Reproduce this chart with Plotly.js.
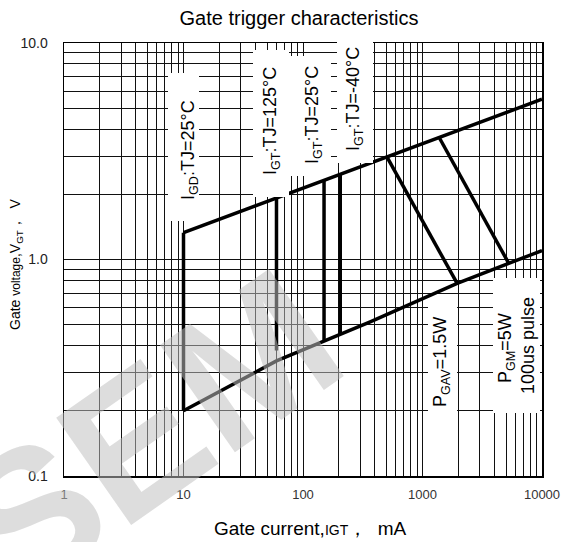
<!DOCTYPE html>
<html>
<head>
<meta charset="utf-8">
<script src="https://cdn.plot.ly/plotly-3.0.1.min.js"></script>
<style>
  html, body { margin: 0; padding: 0; background: #fff; }
  #wrap { position: relative; width: 568px; height: 542px; }
  #chart { position: absolute; left: 0; top: 0; width: 568px; height: 542px; }
  #wm { position: absolute; left: 0; top: 0; width: 568px; height: 542px; pointer-events: none; }
</style>
</head>
<body>
<div id="wrap">
  <div id="chart"></div>
  <svg id="wm" width="568" height="542" xmlns="http://www.w3.org/2000/svg">
    <text x="17" y="605" transform="rotate(-35 17 605)" font-family="Liberation Sans, Arial, sans-serif"
          font-weight="bold" font-size="190" fill="rgb(191,191,191)" fill-opacity="0.53">SEM</text>
  </svg>
</div>
<script>
// ---- data ----
const xUpper = [10, 10000];
const yUpper = [1.33, 5.5];
const xLower = [10, 60, 365, 1950, 10000];
const yLower = [0.2, 0.34, 0.515, 0.775, 1.1];
const xIGD = [10, 10];
const yIGD = [0.2, 1.33];
const xIGT125 = [60, 60];
const yIGT125 = [0.38, 1.92];
const xIGT25 = [150, 150];
const yIGT25 = [0.42, 2.32];
const xIGTm40 = [205, 205];
const yIGTm40 = [0.45, 2.47];
const xPGAV = [504, 1950];
const yPGAV = [2.98, 0.775];
const xPGM = [1365, 5270];
const yPGM = [3.7, 0.96];

const xTickVals = [1, 10, 100, 1000, 10000];
const xTickText = ['1', '10', '100', '1000', '10000'];
const yTickVals = [0.1, 1, 10];
const yTickText = ['0.1', '1.0', '10.0'];

const labelTexts = ['I<sub>GD</sub>:TJ=25°C', 'I<sub>GT</sub>:TJ=125°C', 'I<sub>GT</sub>:TJ=25°C',
                    'I<sub>GT</sub>:TJ=-40°C', 'P<sub>GAV</sub>=1.5W', 'P<sub>GM</sub>=5W', '100us pulse'];

// ---- layout helpers (pixel -> paper) ----
const L = 64, R = 542, T = 43, B = 476;
const px = v => (v - L) / (R - L);
const py = v => (B - v) / (B - T);

const line = (x, y) => ({x, y, type: 'scatter', mode: 'lines', line: {color: '#000', width: 3.5}, hoverinfo: 'skip', showlegend: false});
const data = [
  line(xUpper, yUpper), line(xLower, yLower), line(xIGD, yIGD), line(xIGT125, yIGT125),
  line(xIGT25, yIGT25), line(xIGTm40, yIGTm40), line(xPGAV, yPGAV), line(xPGM, yPGM)
];

const box = (x0, x1, y0, y1) => ({type: 'rect', xref: 'paper', yref: 'paper', layer: 'above',
  x0: px(x0), x1: px(x1), y0: py(y1), y1: py(y0), fillcolor: '#fff', line: {width: 0}});

const labelFont = {family: '"Liberation Sans", Arial, sans-serif', size: 18, color: '#000'};
const lab = (text, cx, cy) => ({text, xref: 'paper', yref: 'paper', x: px(cx), y: py(cy), xanchor: 'center', yanchor: 'middle',
  textangle: -90, showarrow: false, font: labelFont});

const axisCommon = {
  type: 'log', showline: true, mirror: true, linecolor: '#000', linewidth: 1.5,
  showgrid: true, gridcolor: '#111', gridwidth: 1, ticks: '', zeroline: false,
  minor: {dtick: 'D1', showgrid: true, gridcolor: '#111', gridwidth: 1, ticks: ''}
};

const layout = {
  width: 568, height: 542,
  margin: {l: L, r: 568 - R, t: T, b: 542 - B},
  paper_bgcolor: '#fff', plot_bgcolor: '#fff',
  font: {family: '"Liberation Sans", Arial, sans-serif', color: '#000'},
  title: {text: 'Gate trigger characteristics', font: {size: 20, color: '#000'}, x: px(299), xref: 'paper', xanchor: 'center', y: 1 - 18 / 542, yanchor: 'middle'},
  xaxis: Object.assign({}, axisCommon, {range: [0, 4], tickmode: 'array', tickvals: xTickVals, ticktext: xTickText,
    tickfont: {size: 13, color: '#333'}, ticklabelstandoff: 6}),
  yaxis: Object.assign({}, axisCommon, {range: [-1, 1], tickmode: 'array', tickvals: yTickVals, ticktext: yTickText,
    tickfont: {size: 14, color: '#222'}, ticklabelstandoff: 12}),
  shapes: [
    box(168, 199, 73, 221),
    box(253, 289, 50, 197),
    box(289, 331, 56, 176),
    box(337, 373, 38, 163),
    box(428, 457, 307, 415),
    box(493, 540, 278, 413)
  ],
  annotations: [
    lab(labelTexts[0], 189, 150),
    lab(labelTexts[1], 271, 121),
    lab(labelTexts[2], 313, 115),
    lab(labelTexts[3], 355, 99),
    lab(labelTexts[4], 441, 362),
    lab(labelTexts[5], 506, 348),
    lab(labelTexts[6], 528, 346),
    {text: 'Gate current,<span style="font-size:14px">IGT</span>，  mA', xref: 'paper', yref: 'paper',
     x: px(310), y: py(528), xanchor: 'center', yanchor: 'middle', showarrow: false, font: {size: 19, color: '#000'}},
    {text: 'Gate <span style="font-size:12px">voltage</span>,V<sub>GT</sub>，  V', xref: 'paper', yref: 'paper',
     x: px(16), y: py(264), xanchor: 'center', yanchor: 'middle', textangle: -90, showarrow: false, font: {size: 14, color: '#000'}}
  ]
};

Plotly.newPlot('chart', data, layout, {staticPlot: true, displayModeBar: false});
</script>
</body>
</html>
